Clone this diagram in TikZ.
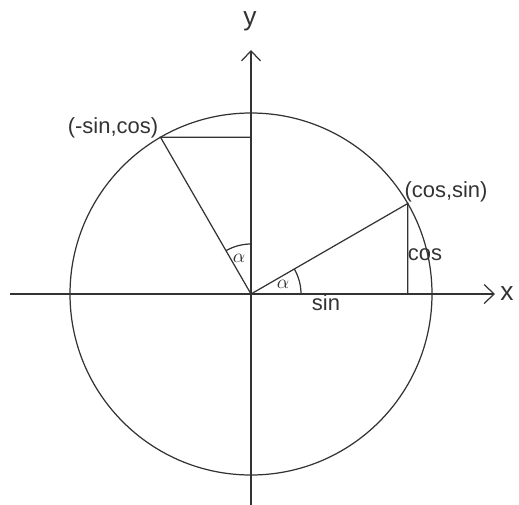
\documentclass[tikz,border=0pt]{standalone}
\usepackage{fontspec}
\setmainfont{Liberation Sans}
\usepackage{tikz}
\usetikzlibrary{arrows.meta,positioning}
\colorlet{unitink}{black!80}
\tikzset{
  unitline/.style={line width=0.7pt,unitink},
  unitaxis/.style={unitline,-{Straight Barb[length=2mm,width=3.8mm,line width=0.7pt]}},
  unitlabel/.style={font=\fontsize{12.5}{15}\selectfont,text=unitink,inner sep=0pt},
  unitaxlabel/.style={font=\fontsize{15}{18}\selectfont,text=unitink,inner sep=0pt},
  unitangle/.style={font=\fontsize{11}{13}\selectfont,text=unitink,inner sep=0pt}
}

\begin{document}
\begin{tikzpicture}[x=0.02cm,y=0.02cm]
  \useasboundingbox (-251,-210) rectangle (268,294);
  \coordinate (O) at (0,0);
  \coordinate (P) at (30:181);
  \coordinate (Q) at (120:181);
  \coordinate (Px) at (P |- O);
  \coordinate (Qy) at (Q -| O);
  \coordinate (xl) at (-241,0);
  \coordinate (xr) at (244,0);
  \coordinate (yb) at (0,-212);
  \coordinate (yt) at (0,244);

  % circle and axes
  \draw[unitline] (O) circle (181);
  \draw[unitaxis] (xl) -- (xr);
  \draw[unitaxis] (yb) -- (yt);

  % radii and projections
  \draw[unitline] (O) -- (P) -- (Px);
  \draw[unitline] (O) -- (Q) -- (Qy);

  % angles
  \draw[unitline] (50,0) arc[start angle=0,end angle=30,radius=50];
  \draw[unitline] (0,50) arc[start angle=90,end angle=120,radius=50];

  \node[unitaxlabel] (xlab) at (256,0) {x};
  \node[unitaxlabel] (ylab) at (-1,273) {y};
  \node[unitlabel] (Plab) at (195,102) {(cos,sin)};
  \node[unitlabel] (Qlab) at (-138,166) {(-sin,cos)};
  \node[unitlabel] (coslab) at (174,39) {cos};
  \node[unitlabel] (sinlab) at (75,-9) {sin};
  \node[unitangle] (a1) at (32,10) {$\alpha$};
  \node[unitangle] (a2) at (-12,36) {$\alpha$};
\end{tikzpicture}
\end{document}
